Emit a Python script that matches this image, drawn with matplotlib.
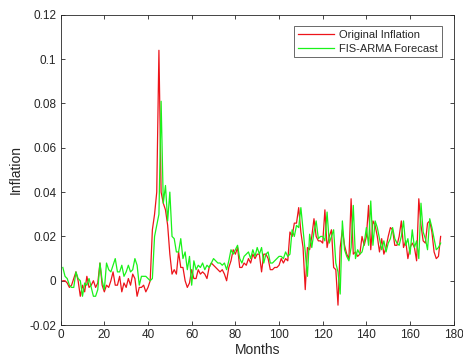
import matplotlib
matplotlib.use("Agg")
import matplotlib.pyplot as plt
import numpy as np

months = np.arange(1, 175)

original = [
    0.0, 0.0, -0.001, -0.003, -0.002, 0.001, 0.004, 0.0, -0.007, -0.002,
    -0.005, 0.002, -0.003, -0.002, 0.0, -0.003, -0.001, 0.008, -0.002, -0.005,
    -0.002, -0.003, 0.0, 0.004, -0.002, -0.002, 0.002, -0.005, -0.001, -0.003,
    0.001, -0.002, 0.003, 0.001, -0.007, -0.003, -0.003, -0.002, -0.005, -0.003,
    0.0, 0.023, 0.030, 0.040, 0.104, 0.040, 0.035, 0.032, 0.025, 0.012,
    0.003, 0.005, 0.003, 0.013, 0.006, 0.006, 0.0, -0.003, -0.001, 0.005,
    0.001, 0.001, 0.005, 0.003, 0.004, 0.003, 0.001, 0.006, 0.008, 0.007,
    0.006, 0.005, 0.004, 0.005, 0.003, 0.0, 0.006, 0.009, 0.014, 0.012,
    0.015, 0.006, 0.006, 0.008, 0.007, 0.010, 0.008, 0.012, 0.010, 0.012,
    0.012, 0.004, 0.012, 0.012, 0.010, 0.005, 0.005, 0.006, 0.006, 0.007,
    0.010, 0.008, 0.010, 0.009, 0.022, 0.020, 0.026, 0.026, 0.033, 0.022,
    0.015, -0.004, 0.015, 0.014, 0.020, 0.028, 0.020, 0.018, 0.018, 0.017,
    0.032, 0.015, 0.020, 0.023, 0.006, 0.005, -0.011, 0.015, 0.023, 0.016,
    0.012, 0.010, 0.037, 0.012, 0.013, 0.011, 0.012, 0.020, 0.016, 0.020,
    0.034, 0.014, 0.027, 0.025, 0.020, 0.013, 0.019, 0.012, 0.015, 0.020,
    0.024, 0.023, 0.016, 0.016, 0.020, 0.027, 0.015, 0.018, 0.010, 0.015,
    0.017, 0.015, 0.009, 0.037, 0.025, 0.018, 0.017, 0.026, 0.027, 0.022,
    0.013, 0.010, 0.011, 0.020,
]

forecast = [
    0.006, 0.002, 0.001, -0.002, -0.003, -0.003, 0.004, 0.001, 0.0, -0.007,
    -0.001, -0.002, 0.001, -0.003, -0.007, -0.007, -0.004, 0.008, 0.0, -0.004,
    0.008, 0.005, 0.004, 0.007, 0.010, 0.004, 0.004, 0.007, 0.002, 0.004,
    0.007, 0.004, 0.005, 0.010, 0.007, -0.002, 0.002, 0.002, 0.002, 0.001,
    0.0, 0.001, 0.020, 0.025, 0.030, 0.081, 0.035, 0.043, 0.027, 0.040,
    0.020, 0.019, 0.013, 0.013, 0.019, 0.010, 0.013, 0.005, 0.011, -0.002,
    0.009, 0.005, 0.007, 0.006, 0.008, 0.005, 0.007, 0.006, 0.008, 0.010,
    0.009, 0.008, 0.008, 0.007, 0.008, 0.005, 0.009, 0.014, 0.012, 0.014,
    0.016, 0.010, 0.008, 0.011, 0.012, 0.013, 0.010, 0.014, 0.011, 0.015,
    0.012, 0.015, 0.008, 0.012, 0.013, 0.008, 0.008, 0.009, 0.010, 0.011,
    0.011, 0.010, 0.013, 0.011, 0.012, 0.023, 0.020, 0.025, 0.024, 0.033,
    0.023, 0.013, 0.002, 0.021, 0.015, 0.022, 0.027, 0.019, 0.020, 0.020,
    0.018, 0.031, 0.017, 0.020, 0.023, 0.008, 0.004, -0.006, 0.027, 0.014,
    0.011, 0.009, 0.015, 0.034, 0.010, 0.014, 0.012, 0.013, 0.017, 0.024,
    0.016, 0.036, 0.016, 0.027, 0.024, 0.019, 0.014, 0.018, 0.013, 0.017,
    0.019, 0.024, 0.019, 0.017, 0.016, 0.020, 0.027, 0.016, 0.019, 0.012,
    0.023, 0.015, 0.018, 0.010, 0.035, 0.022, 0.019, 0.014, 0.028, 0.024,
    0.019, 0.014, 0.015, 0.017,
]

xticks = [0, 20, 40, 60, 80, 100, 120, 140, 160, 180]
yticks = [-0.02, 0, 0.02, 0.04, 0.06, 0.08, 0.1, 0.12]
ytick_labels = ["-0.02", "0", "0.02", "0.04", "0.06", "0.08", "0.1", "0.12"]

plt.rcParams['font.family'] = ['Liberation Sans', 'DejaVu Sans']

fig = plt.figure(figsize=(4.63, 3.62), dpi=100)
ax = fig.add_axes([0.131, 0.102, 0.849, 0.857])

ax.plot(months, original, color=(0.93, 0.08, 0.1), lw=0.9, label="Original Inflation")
ax.plot(months, forecast, color=(0.1, 0.95, 0.1), lw=0.9, label="FIS-ARMA Forecast")

ax.set_xlim(0, 180)
ax.set_ylim(-0.02, 0.12)
ax.set_xticks(xticks)
ax.set_yticks(yticks)
ax.set_yticklabels(ytick_labels)

axcol = (0.15, 0.15, 0.15)
for s in ax.spines.values():
    s.set_color(axcol)
    s.set_linewidth(0.6)
ax.tick_params(direction='in', top=True, right=True, length=3, width=0.6,
               colors=axcol, labelsize=8.5, pad=3)
ax.set_xlabel("Months", fontsize=10, color=axcol, labelpad=1)
ax.set_ylabel("Inflation", fontsize=10, color=axcol, labelpad=5)

leg = ax.legend(loc='upper right', bbox_to_anchor=(0.97, 0.963), fontsize=8,
                frameon=True, fancybox=False, borderaxespad=0, handlelength=3.2,
                borderpad=0.35, labelspacing=0.3, handletextpad=0.5)
leg.get_frame().set_edgecolor(axcol)
leg.get_frame().set_linewidth(0.6)
for t in leg.get_texts():
    t.set_color(axcol)

fig.savefig("out.png", dpi=100)
